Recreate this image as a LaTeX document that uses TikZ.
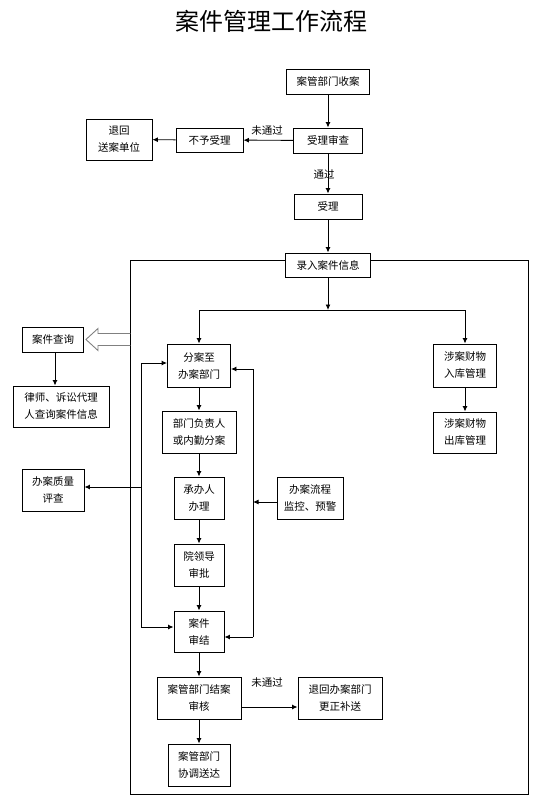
\documentclass[tikz,border=0pt]{standalone}
\usepackage{fontspec}
\setmainfont{Noto Sans CJK SC}
\usepackage{tikz}
\usetikzlibrary{arrows.meta, positioning, calc}
\tikzset{
    flowBox/.style={rectangle, draw=black, line width=0.9pt, fill=white, align=center, inner sep=1pt, font=\fontsize{10.5}{17}\selectfont},
    flowLine/.style={line width=0.9pt},
    flowArrow/.style={->, line width=0.9pt},
    passLabel/.style={inner sep=1pt, font=\fontsize{10.5}{13}\selectfont},
    hollowArrow/.style={draw=gray, line width=0.9pt}
}

\begin{document}
\begin{tikzpicture}[x=1pt, y=-1pt, >={Latex[length=5.5pt, width=5pt]}]
    \useasboundingbox (0,0) rectangle (558,805);
    \node[font=\fontsize{24}{30}\selectfont] (Title) at (271,21) {案件管理工作流程};

    \coordinate (FrameNW) at (130,260);  \coordinate (FrameSE) at (528,794);
    \draw[flowLine] (FrameNW) rectangle (FrameSE);

    \node[flowBox, minimum width=83pt, minimum height=25pt] (Recv) at (328,81.5) {案管部门收案};
    \node[flowBox, minimum width=69pt, minimum height=25pt] (Review) at (328,140.5) {受理审查};
    \node[flowBox, minimum width=67pt, minimum height=24pt] (Reject) at (209.5,140) {不予受理};
    \node[flowBox, minimum width=66pt, minimum height=41pt] (Back) at (119,139.5) {退回\\送案单位};
    \node[flowBox, minimum width=68pt, minimum height=25pt] (Accept) at (328,206.5) {受理};
    \node[flowBox, minimum width=85pt, minimum height=24pt] (Entry) at (328,265) {录入案件信息};

    \node[flowBox, minimum width=61pt, minimum height=25pt] (Query) at (53,339.5) {案件查询};
    \node[flowBox, minimum width=96pt, minimum height=41pt] (Lawyer) at (61,406.5) {律师、诉讼代理\\人查询案件信息};
    \node[flowBox, minimum width=62pt, minimum height=42pt] (Quality) at (53,490) {办案质量\\评查};

    \node[flowBox, minimum width=63pt, minimum height=43pt] (Assign) at (199,365.5) {分案至\\办案部门};
    \node[flowBox, minimum width=74pt, minimum height=42pt] (Head) at (199,432) {部门负责人\\或内勤分案};
    \node[flowBox, minimum width=50pt, minimum height=42pt] (Handle) at (199,498) {承办人\\办理};
    \node[flowBox, minimum width=50pt, minimum height=42pt] (Approve) at (199,565) {院领导\\审批};
    \node[flowBox, minimum width=50pt, minimum height=41pt] (Close) at (199,631.5) {案件\\审结};
    \node[flowBox, minimum width=84pt, minimum height=42pt] (Audit) at (199,698) {案管部门结案\\审核};
    \node[flowBox, minimum width=62pt, minimum height=42pt] (Deliver) at (199,765) {案管部门\\协调送达};
    \node[flowBox, minimum width=84pt, minimum height=42pt] (Redo) at (340,698) {退回办案部门\\更正补送};

    \node[flowBox, minimum width=66pt, minimum height=42pt] (Monitor) at (310,498) {办案流程\\监控、预警};
    \node[flowBox, minimum width=63pt, minimum height=43pt] (StockIn) at (465,365.5) {涉案财物\\入库管理};
    \node[flowBox, minimum width=63pt, minimum height=41pt] (StockOut) at (465,432.5) {涉案财物\\出库管理};

    \draw[flowArrow] (Recv) -- (Review);
    \draw[flowArrow] (Review) -- (Reject);
    \node[passLabel] (FailA) at (267,131) {未通过};
    \draw[flowArrow] (Reject) -- (Back);
    \draw[flowArrow] (Review) -- (Accept);
    \node[passLabel] (Pass) at (324,174) {通过};
    \draw[flowArrow] (Accept) -- (Entry);

    \coordinate (Split) at (328,310);
    \draw[flowArrow] (Entry) -- (Split);
    \draw[flowArrow] (Split) -| (Assign.north);
    \draw[flowArrow] (Split) -| (StockIn.north);
    \draw[flowArrow] (StockIn) -- (StockOut);

    \draw[hollowArrow] ($(Query.east)+(46.5,-6)$) -- ++(-32.5,0) -- ++(0,-5) -- ++(-12,11) -- ++(12,11) -- ++(0,-5) -- ++(32.5,0);
    \draw[flowArrow] ([xshift=2pt]Query.south) -- ([xshift=2pt]Query.south |- Lawyer.north);

    \draw[flowArrow] (Assign) -- (Head);
    \draw[flowArrow] (Head) -- (Handle);
    \draw[flowArrow] (Handle) -- (Approve);
    \draw[flowArrow] (Approve) -- (Close);
    \draw[flowArrow] (Close) -- (Audit);
    \draw[flowArrow] (Audit) -- (Deliver);
    \draw[flowArrow] ([yshift=-9pt]Audit.east) -- ([yshift=-9pt]Redo.west);
    \node[passLabel] (FailB) at (267,683) {未通过};

    \coordinate (LoopLTop) at (141,363);  \coordinate (LoopLBot) at (141,627);  \coordinate (LoopLMid) at (141,487);
    \draw[flowLine] (LoopLTop) -- (LoopLBot);
    \draw[flowArrow] (LoopLTop) -- (LoopLTop -| Assign.west);
    \draw[flowArrow] (LoopLBot) -- (LoopLBot -| Close.west);
    \draw[flowArrow] (LoopLMid) -- (LoopLMid -| Quality.east);

    \coordinate (LoopRTop) at (253,369);  \coordinate (LoopRBot) at (253,637);  \coordinate (LoopRMid) at (253,502);
    \draw[flowLine] (LoopRTop) -- (LoopRBot);
    \draw[flowArrow] (LoopRTop) -- (LoopRTop -| Assign.east);
    \draw[flowArrow] (LoopRBot) -- (LoopRBot -| Close.east);
    \draw[flowArrow] (Monitor.west |- LoopRMid) -- (LoopRMid);
\end{tikzpicture}
\end{document}
